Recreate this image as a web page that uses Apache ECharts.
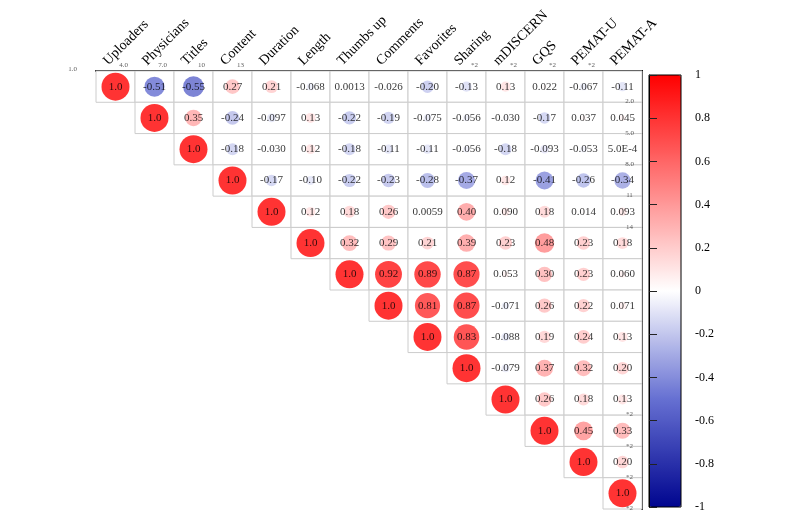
<!DOCTYPE html>
<html>
<head>
<meta charset="utf-8">
<script src="https://cdn.jsdelivr.net/npm/echarts@6/dist/echarts.min.js"></script>
<style>
  html, body { margin: 0; padding: 0; background: #fff; }
  #chart { width: 800px; height: 519px; }
</style>
</head>
<body>
<div id="chart"></div>
<script>
const names = ['Uploaders', 'Physicians', 'Titles', 'Content', 'Duration', 'Length', 'Thumbs up',
  'Comments', 'Favorites', 'Sharing', 'mDISCERN', 'GQS', 'PEMAT-U', 'PEMAT-A']

// upper triangle, row i starts at column i
const rowUploaders = [1.0, -0.51, -0.55, 0.27, 0.21, -0.068, 0.0013, -0.026, -0.20, -0.13, 0.13, 0.022, -0.067, -0.11]
const rowPhysicians = [1.0, 0.35, -0.24, -0.097, 0.13, -0.22, -0.19, -0.075, -0.056, -0.030, -0.17, 0.037, 0.045]
const rowTitles = [1.0, -0.18, -0.030, 0.12, -0.18, -0.11, -0.11, -0.056, -0.18, -0.093, -0.053, 0.0005]
const rowContent = [1.0, -0.17, -0.10, -0.22, -0.23, -0.28, -0.37, 0.12, -0.41, -0.26, -0.34]
const rowDuration = [1.0, 0.12, 0.18, 0.26, 0.0059, 0.40, 0.090, 0.18, 0.014, 0.093]
const rowLength = [1.0, 0.32, 0.29, 0.21, 0.39, 0.23, 0.48, 0.23, 0.18]
const rowThumbs = [1.0, 0.92, 0.89, 0.87, 0.053, 0.30, 0.23, 0.060]
const rowComments = [1.0, 0.81, 0.87, -0.071, 0.26, 0.22, 0.071]
const rowFavorites = [1.0, 0.83, -0.088, 0.19, 0.24, 0.13]
const rowSharing = [1.0, -0.079, 0.37, 0.32, 0.20]
const rowMdiscern = [1.0, 0.26, 0.18, 0.13]
const rowGqs = [1.0, 0.45, 0.33]
const rowPematU = [1.0, 0.20]
const rowPematA = [1.0]

// stray small marks printed around the frame
const topMarkCols = [0, 1, 2, 3, 9, 10, 11, 12]
const topMarkText = ['4.0', '7.0', '10', '13', '*2', '*2', '*2', '*2']
const rightMarkRows = [0, 1, 2, 3, 4, 10, 11, 12, 13]
const rightMarkText = ['2.0', '5.0', '8.0', '11', '14', '*2', '*2', '*2', '*2']

const rows = [rowUploaders, rowPhysicians, rowTitles, rowContent, rowDuration, rowLength, rowThumbs,
  rowComments, rowFavorites, rowSharing, rowMdiscern, rowGqs, rowPematU, rowPematA]

let cells = []
rows.forEach((row, i) => {
  row.forEach((v, k) => {
    cells.push([i + k, i, v])
  })
})

function fmt(v) {
  if (v !== 0 && Math.abs(v) < 0.001) return v.toExponential(1).toUpperCase()
  return v.toPrecision(2)
}

let marks = []
topMarkCols.forEach((c, k) => {
  marks.push({ value: [c, 0], label: { formatter: topMarkText[k], offset: [8, -21] } })
})
rightMarkRows.forEach((r, k) => {
  marks.push({ value: [13, r], label: { formatter: rightMarkText[k], offset: [7, 15] } })
})
marks.push({ value: [0, 0], label: { formatter: '1.0', offset: [-43, -17] } })

const serif = 'Liberation Serif'

let myChart = echarts.init(document.getElementById('chart'))
myChart.setOption({
  animation: false,
  grid: [
    { left: 96, top: 71, width: 546, height: 438 },
    { left: 649, top: 75, width: 32, height: 432, show: true, borderColor: '#000', borderWidth: 1, backgroundColor: 'transparent', z: 10 },
  ],
  xAxis: [
    {
      type: 'category',
      data: names,
      position: 'top',
      axisLine: { show: true, lineStyle: { color: '#000', width: 2 } },
      axisTick: { show: false },
      splitLine: { show: false },
      axisLabel: {
        rotate: -45,
        fontFamily: serif,
        fontSize: 14,
        color: '#000',
        margin: -2,
        verticalAlign: 'bottom',
        padding: [0, 0, 7, 0],
      },
    },
    { gridIndex: 1, type: 'value', show: false },
  ],
  yAxis: [
    {
      type: 'category',
      data: names,
      inverse: true,
      position: 'right',
      axisLine: { show: true, lineStyle: { color: '#000', width: 2 } },
      axisTick: { show: false },
      axisLabel: { show: false },
      splitLine: { show: false },
    },
    {
      gridIndex: 1,
      type: 'value',
      min: -1,
      max: 1,
      interval: 0.2,
      position: 'right',
      z: 12,
      axisLine: { show: true, lineStyle: { color: '#000', width: 1 } },
      axisTick: { show: true, inside: false, length: 8, lineStyle: { color: '#222', width: 1 } },
      splitLine: { show: false },
      axisLabel: { fontFamily: serif, fontSize: 12, color: '#000', margin: 14 },
    },
  ],
  visualMap: {
    type: 'continuous',
    min: -1,
    max: 1,
    dimension: 2,
    seriesIndex: 1,
    left: 649,
    top: 75,
    itemWidth: 32,
    itemHeight: 432,
    padding: 0,
    calculable: false,
    text: null,
    inRange: { color: ['#00058f', '#6670d2', '#ffffff', '#ff7f7f', '#ff0000'] },
  },
  series: [
    {
      type: 'custom',
      data: cells,
      renderItem: (params, api) => {
        let c = api.coord([api.value(0), api.value(1)])
        let s = api.size([1, 1])
        return {
          type: 'rect',
          shape: { x: c[0] - s[0] / 2, y: c[1] - s[1] / 2, width: s[0], height: s[1] },
          style: { fill: '#fff', stroke: '#cccccc', lineWidth: 1 },
        }
      },
      z: 1,
    },
    {
      type: 'scatter',
      data: cells,
      symbol: 'circle',
      symbolSize: (v) => 28 * Math.sqrt(Math.abs(v[2])),
      label: {
        show: true,
        position: 'inside',
        formatter: (p) => fmt(p.value[2]),
        fontFamily: serif,
        fontSize: 11,
        color: '#000',
      },
      z: 3,
    },
    {
      type: 'scatter',
      data: marks,
      symbolSize: 0,
      silent: true,
      label: { show: true, position: 'inside', fontFamily: serif, fontSize: 7, color: '#333' },
      z: 4,
    },
  ],
})
</script>
</body>
</html>
